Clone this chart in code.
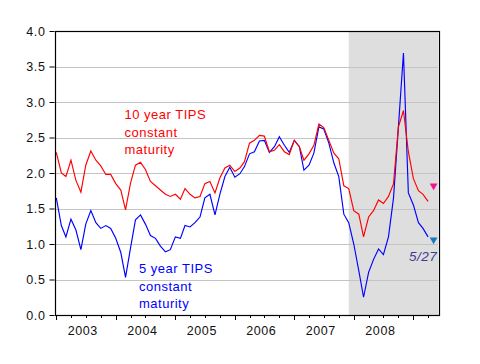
<!DOCTYPE html>
<html>
<head>
<meta charset="utf-8">
<script src="https://cdn.jsdelivr.net/npm/d3@7"></script>
<style>
	body { margin: 0; background: #fff; }
	svg { display: block; font-family: "Liberation Sans", Arial, sans-serif; }
</style>
</head>
<body>
<div id="chart"></div>
<script>
// monthly series, Jan 2003 .. Apr 2009
const START_MONTH = "2003-01";

const tips10 = [
	2.29, 2.00, 1.95, 2.18, 1.90, 1.73, 2.11, 2.31, 2.18, 2.10, 1.98, 1.98,
	1.85, 1.76, 1.48, 1.86, 2.11, 2.15, 2.05, 1.88, 1.82, 1.76, 1.70, 1.67,
	1.70, 1.63, 1.78, 1.70, 1.65, 1.67, 1.85, 1.88, 1.72, 1.93, 2.07, 2.11,
	2.02, 2.07, 2.16, 2.42, 2.46, 2.53, 2.52, 2.30, 2.32, 2.40, 2.30, 2.26,
	2.46, 2.37, 2.18, 2.27, 2.39, 2.69, 2.64, 2.46, 2.28, 2.20, 1.82, 1.78,
	1.47, 1.42, 1.10, 1.38, 1.47, 1.62, 1.57, 1.67, 1.85, 2.65, 2.88, 2.30,
	1.92, 1.75, 1.70, 1.60
];

const tips5 = [
	1.65, 1.26, 1.10, 1.35, 1.20, 0.92, 1.28, 1.47, 1.30, 1.22, 1.26, 1.22,
	1.08, 0.88, 0.53, 0.95, 1.34, 1.41, 1.28, 1.12, 1.08, 0.97, 0.89, 0.92,
	1.10, 1.08, 1.26, 1.24, 1.30, 1.38, 1.65, 1.70, 1.41, 1.70, 1.95, 2.08,
	1.94, 1.99, 2.09, 2.27, 2.30, 2.45, 2.46, 2.29, 2.37, 2.51, 2.39, 2.29,
	2.46, 2.37, 2.04, 2.11, 2.28, 2.65, 2.62, 2.42, 2.14, 1.95, 1.42, 1.30,
	1.00, 0.62, 0.25, 0.60, 0.78, 0.93, 0.85, 1.10, 1.65, 2.65, 3.69, 1.72,
	1.55, 1.30, 1.22, 1.10
];

// latest readings (5/27)
const markerDate = "2009-05-05";
const markerValues = [1.82, 1.06];

const recession = ["2007-12-01", "2009-06-01"];
const years = [2003, 2004, 2005, 2006, 2007, 2008];
const yTicks = [0, 0.5, 1, 1.5, 2, 2.5, 3, 3.5, 4];

const labels10 = ["10 year TIPS", "constant", "maturity"];
const labels5 = ["5 year TIPS", "constant", "maturity"];

const width = 480;
const height = 364;
const margins = { left: 54.5, right: 42, top: 31, bottom: 49 };

const parseMonth = d3.timeParse("%Y-%m");
const parseDay = d3.timeParse("%Y-%m-%d");
const start = parseMonth(START_MONTH);
const months = tips10.map((_, i) => d3.timeMonth.offset(start, i));

const svg = d3
	.select("#chart")
	.append("svg")
	.attr("width", width)
	.attr("height", height);

const x = d3
	.scaleTime()
	.domain([parseDay("2002-12-21"), parseDay("2009-06-01")])
	.range([margins.left, width - margins.right]);

const y = d3
	.scaleLinear()
	.domain([0, 4])
	.range([height - margins.bottom, margins.top]);

// shaded recession
svg
	.append("rect")
	.attr("x", x(parseDay(recession[0])))
	.attr("y", y(4))
	.attr("width", x(parseDay(recession[1])) - x(parseDay(recession[0])))
	.attr("height", y(0) - y(4))
	.attr("fill", "#dedede");

// grid lines
svg
	.append("g")
	.attr("class", "grid")
	.selectAll("line")
	.data(yTicks.filter((t) => t > 0 && t < 4))
	.join("line")
	.attr("x1", x.range()[0])
	.attr("x2", x.range()[1])
	.attr("y1", (d) => Math.round(y(d)) + 0.5)
	.attr("y2", (d) => Math.round(y(d)) + 0.5)
	.attr("stroke", "#c4c4c4")
	.attr("stroke-width", 1);

// y axis
const yAxis = svg
	.append("g")
	.attr("transform", `translate(${margins.left}, 0)`)
	.call(
		d3
			.axisLeft(y)
			.tickValues(yTicks)
			.tickFormat(d3.format(".1f"))
			.tickSize(5)
			.tickPadding(4),
	);

yAxis.select(".domain").remove();
yAxis
	.selectAll(".tick text")
	.attr("font-size", 12.5)
	.attr("letter-spacing", 0.6)
	.attr("fill", "#111")
	.attr("font-family", "Liberation Sans, Arial, sans-serif");

// x axis: quarterly minor ticks, yearly major ticks
const xAxis = svg.append("g").attr("transform", `translate(0, ${y(0)})`);

xAxis
	.selectAll("line.minor")
	.data(d3.timeMonth.range(parseMonth("2003-01"), parseMonth("2009-06"), 3))
	.join("line")
	.attr("class", "minor")
	.attr("x1", (d) => Math.round(x(d)) + 0.5)
	.attr("x2", (d) => Math.round(x(d)) + 0.5)
	.attr("y1", 0)
	.attr("y2", (d) => (d.getMonth() === 0 ? 5 : 3))
	.attr("stroke", "#000");

xAxis
	.selectAll("text")
	.data(years)
	.join("text")
	.attr("x", (d) => x(new Date(d, 6, 1)) - 3)
	.attr("y", 20)
	.attr("text-anchor", "middle")
	.attr("font-size", 12.5)
	.attr("letter-spacing", 0.6)
	.attr("fill", "#111")
	.text((d) => d);

// series
const line = d3
	.line()
	.x((d, i) => x(months[i]))
	.y((d) => y(d));

svg
	.append("path")
	.datum(tips5)
	.attr("fill", "none")
	.attr("stroke", "#0000ff")
	.attr("stroke-width", 1.15)
	.attr("d", line);

svg
	.append("path")
	.datum(tips10)
	.attr("fill", "none")
	.attr("stroke", "#ff0000")
	.attr("stroke-width", 1.15)
	.attr("d", line);

// frame
svg
	.append("rect")
	.attr("x", Math.round(x.range()[0]) + 0.5)
	.attr("y", Math.round(y(4)) + 0.5)
	.attr("width", Math.round(x.range()[1] - x.range()[0]))
	.attr("height", Math.round(y(0) - y(4)))
	.attr("fill", "none")
	.attr("stroke", "#000")
	.attr("stroke-width", 1.2);

// latest value markers
const markerColors = ["#f0168f", "#1878c0"];
svg
	.append("g")
	.selectAll("path")
	.data(markerValues)
	.join("path")
	.attr("d", d3.symbol(d3.symbolTriangle, 26))
	.attr(
		"transform",
		(d) => `translate(${x(parseDay(markerDate))}, ${y(d)}) rotate(180)`,
	)
	.attr("fill", (d, i) => markerColors[i]);

svg
	.append("text")
	.attr("x", 409)
	.attr("y", 261)
	.attr("font-size", 13.5)
	.attr("font-style", "italic")
	.attr("letter-spacing", 0.5)
	.attr("fill", "#3a3a96")
	.text("5/27");

// series labels
svg
	.append("g")
	.selectAll("text")
	.data(labels10)
	.join("text")
	.attr("x", 124.5)
	.attr("y", (d, i) => 119 + i * 17.6)
	.attr("font-size", 13)
	.attr("letter-spacing", 0.5)
	.attr("fill", "#ff0000")
	.text((d) => d);

svg
	.append("g")
	.selectAll("text")
	.data(labels5)
	.join("text")
	.attr("x", 139)
	.attr("y", (d, i) => 273 + i * 17.6)
	.attr("font-size", 13)
	.attr("letter-spacing", 0.5)
	.attr("fill", "#0000ff")
	.text((d) => d);
</script>
</body>
</html>
